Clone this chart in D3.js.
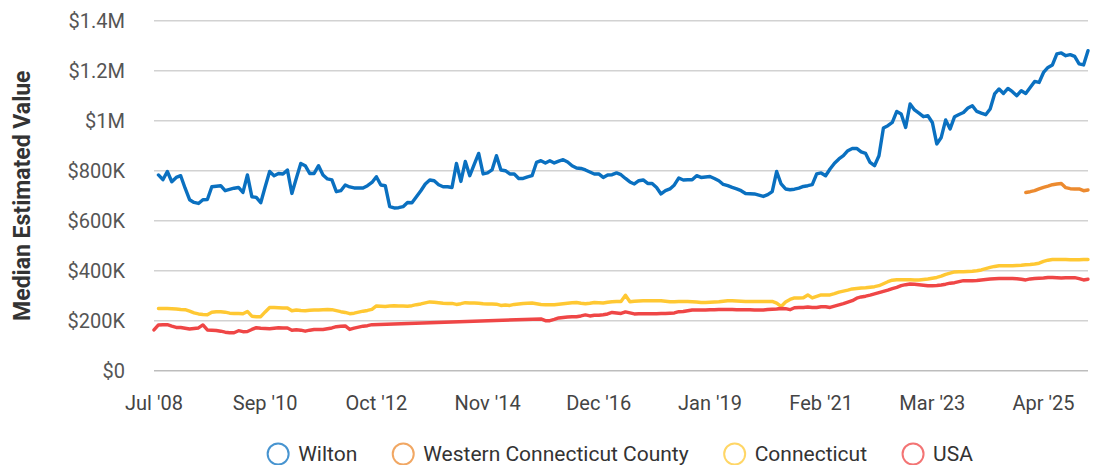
<!DOCTYPE html>
<html><head><meta charset="utf-8">
<script src="https://cdn.jsdelivr.net/npm/d3@7"></script>
<style>
body{margin:0;background:#fff;}
svg{display:block;font-family:Roboto,"Noto Sans",sans-serif;}
</style>
</head><body>
<svg id="chart" width="1097" height="465"></svg>
<script>
// ---------- DATA (values in $K, one value per month index) ----------
const xTickIndex = [0, 25, 50, 75, 100, 125, 150, 175, 200];
const xTickLabels = ["Jul '08", "Sep '10", "Oct '12", "Nov '14", "Dec '16", "Jan '19", "Feb '21", "Mar '23", "Apr '25"];
const yTickValues = [0, 200, 400, 600, 800, 1000, 1200, 1400];
const yTickLabels = ["$0", "$200K", "$400K", "$600K", "$800K", "$1M", "$1.2M", "$1.4M"];
const lastIndex = 210;

const seriesNames = ["Wilton", "Western Connecticut County", "Connecticut", "USA"];
const seriesColors = ["#0a70c0", "#ec8a2f", "#ffc833", "#ef4646"];

const wiltonStart = 1;
const wiltonValues = [
  783,764,797,756,773,780,730,684,673,669,
  684,685,736,738,740,720,725,730,733,713,
  783,696,693,672,736,797,780,789,787,803,
  709,770,829,820,789,789,820,783,767,763,
  716,720,743,735,731,731,731,740,753,776,
  743,740,656,651,652,656,673,672,696,720,
  747,763,760,744,736,736,733,829,757,837,
  780,825,869,787,791,803,860,803,800,787,
  787,769,769,775,780,833,840,831,840,831,
  838,844,835,820,811,809,803,795,787,787,
  773,783,784,791,784,769,755,747,760,763,
  749,749,733,707,720,727,743,771,763,764,
  764,780,773,775,777,769,760,745,740,733,
  727,720,709,708,707,702,697,704,716,797,
  747,727,724,726,730,737,740,744,787,791,
  780,807,830,847,860,880,889,889,875,869,
  833,820,860,971,980,993,1037,1027,973,1067,
  1043,1030,1016,1020,993,907,933,1003,967,1016,
  1025,1033,1051,1060,1037,1030,1024,1047,1107,1127,
  1109,1129,1116,1100,1120,1109,1133,1157,1153,1193,
  1213,1223,1267,1271,1260,1264,1257,1227,1223,1280
];

const westernStart = 196;
const westernValues = [713,716,720,727,733,738,744,747,749,732,728,727,727,720,723];

const connecticutStart = 1;
const connecticutValues = [
  249,249,249,248,247,245,244,238,231,227,
  225,224,234,236,236,234,230,229,229,228,
  237,218,216,216,235,253,253,252,251,251,
  240,243,241,240,242,243,243,244,245,244,
  240,236,233,228,230,234,238,241,245,259,
  258,257,259,260,259,259,258,260,264,267,
  271,275,274,272,270,269,269,265,268,272,
  271,271,270,268,267,267,266,261,263,261,
  265,267,269,270,271,268,265,264,264,264,
  266,268,270,272,273,270,268,270,273,272,
  271,274,276,277,277,302,276,278,279,280,
  280,280,280,280,278,276,276,277,277,277,
  276,275,273,273,274,275,276,278,280,280,
  279,278,277,277,277,277,277,277,277,270,
  257,275,285,291,291,292,303,291,297,303,
  303,303,308,314,318,322,327,329,331,332,
  334,336,340,348,356,362,364,364,364,364,
  363,363,365,367,370,373,378,385,390,395,
  396,396,397,398,400,403,408,413,417,420,
  420,420,420,421,422,424,425,427,430,437,
  442,445,445,445,445,444,444,444,445,445
];

const usaStart = 0;
const usaValues = [
  163,183,184,184,178,173,173,170,167,169,
  171,183,163,162,161,158,154,152,152,160,
  156,157,165,172,170,169,168,170,172,171,
  171,162,164,162,158,162,165,165,165,168,
  171,176,178,179,165,170,174,178,180,184,
  null,null,null,null,null,null,null,null,null,null,
  null,null,null,null,null,null,null,null,null,null,
  null,null,null,null,null,null,null,null,null,null,
  null,null,null,null,null,null,null,
  207,200,200,205,211,213,215,216,216,219,
  223,219,222,222,224,227,233,231,229,235,
  231,227,228,228,228,228,228,229,229,230,
  231,236,237,240,243,243,243,243,244,244,
  245,245,245,245,244,244,244,244,243,243,
  243,245,246,247,249,248,244,252,253,253,
  255,253,253,256,256,253,258,263,268,274,
  280,290,295,298,302,307,312,317,322,328,
  333,340,344,347,346,344,342,340,340,341,
  343,346,350,352,356,360,360,360,361,363,
  365,367,368,369,369,369,369,368,366,363,
  367,369,370,371,373,373,372,371,372,372,
  372,368,363,366
];

// ---------- CHART ----------
const svg = d3.select("#chart");
const x = d3.scaleLinear().domain([0, lastIndex]).range([154, 1088]);
const y = d3.scaleLinear().domain([0, 1400]).range([370.7, 20.7]);

// gridlines
svg.append("g").selectAll("line").data(yTickValues).join("line")
  .attr("x1", x(0)).attr("x2", x(lastIndex))
  .attr("y1", d => y(d)).attr("y2", d => y(d))
  .attr("stroke", d => d === 0 ? "#bdbdbd" : "#d2d2d2")
  .attr("stroke-width", 1.4);

// y labels
svg.append("g").selectAll("text").data(yTickValues).join("text")
  .attr("x", 125).attr("y", d => y(d))
  .attr("text-anchor", "end").attr("dominant-baseline", "central")
  .attr("font-size", 20).attr("fill", "#555")
  .text((d, i) => yTickLabels[i]);

// x labels
svg.append("g").selectAll("text").data(xTickIndex).join("text")
  .attr("x", d => x(d)).attr("y", 410)
  .attr("text-anchor", "middle")
  .attr("font-size", 20).attr("fill", "#444")
  .text((d, i) => xTickLabels[i]);

// y title
svg.append("text")
  .attr("transform", `translate(22,${(y(0) + y(1400)) / 2}) rotate(-90)`)
  .attr("text-anchor", "middle").attr("dominant-baseline", "central")
  .attr("font-size", 23).attr("font-weight", "bold").attr("fill", "#333")
  .text("Median Estimated Value");

// lines
function toPoints(start, values) {
  return values.map((v, k) => ({ i: start + k, v })).filter(d => d.v !== null);
}
const seriesData = [
  toPoints(wiltonStart, wiltonValues),
  toPoints(westernStart, westernValues),
  toPoints(connecticutStart, connecticutValues),
  toPoints(usaStart, usaValues)
];
const line = d3.line().x(d => x(d.i)).y(d => y(d.v));
svg.append("g").selectAll("path").data(seriesData).join("path")
  .attr("d", line)
  .attr("fill", "none")
  .attr("stroke", (d, i) => seriesColors[i])
  .attr("stroke-width", 3.4)
  .attr("stroke-linejoin", "round")
  .attr("stroke-linecap", "round");

// legend
const legend = svg.append("g");
let cx = 0;
seriesNames.forEach((name, i) => {
  const g = legend.append("g");
  g.append("circle").attr("cx", cx).attr("cy", 0).attr("r", 10.5)
    .attr("fill", "#fff").attr("stroke", seriesColors[i])
    .attr("stroke-opacity", 0.75).attr("stroke-width", 2);
  const t = g.append("text").attr("x", cx + 20).attr("y", 0)
    .attr("dominant-baseline", "central")
    .attr("font-size", 21).attr("fill", "#333").text(name);
  const w = t.node().getComputedTextLength();
  cx = cx + 20 + w + 46;
});
const totalW = cx - 46 + 11;
legend.attr("transform", `translate(${620 - totalW / 2 + 11},454)`);
</script>
</body></html>
